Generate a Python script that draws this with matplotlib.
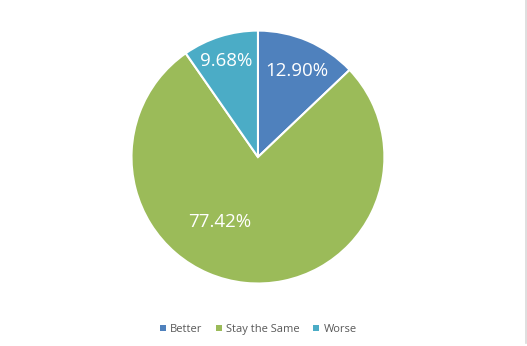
import matplotlib
matplotlib.use('Agg')
import matplotlib.pyplot as plt
from matplotlib.lines import Line2D
from matplotlib.patches import Patch

plt.rcParams['font.family'] = ['Open Sans', 'DejaVu Sans']

categories = ['Better', 'Stay the Same', 'Worse']
values = [12.90, 77.42, 9.68]
colors = ['#4F81BD', '#9BBB59', '#4BACC6']

# label offsets (fraction of radius) as Excel placed them
label_pos = [(0.31, 0.68), (-0.30, -0.51), (-0.25, 0.76)]

fig = plt.figure(figsize=(5.27, 3.46), dpi=100)
ax = fig.add_axes([0.2495, 0.1806, 0.480, 0.731])
wedges, texts, autotexts = ax.pie(
    values, colors=colors, startangle=90, counterclock=False,
    autopct='%.2f%%', radius=1.0,
    wedgeprops=dict(edgecolor='white', linewidth=1.5),
    textprops=dict(color='white', fontsize=13.5))
for t, (x, y) in zip(autotexts, label_pos):
    t.set_position((x, y))
    t.set_ha('center')
    t.set_va('center')
ax.set_xlim(-1, 1)
ax.set_ylim(-1, 1)
ax.set_aspect('equal')

handles = [Patch(facecolor=c, edgecolor='none') for c in colors]
fig.legend(handles, categories, loc='center', bbox_to_anchor=(0.49, 0.048),
           ncol=3, frameon=False, fontsize=8, handlelength=0.55, handleheight=0.55,
           handletextpad=0.4, columnspacing=1.2, labelcolor='#595959')

# grey cell border on the right edge
fig.add_artist(Line2D([525.5 / 527, 525.5 / 527], [3 / 346, 1], color='#d9d9d9', linewidth=1.2))

fig.savefig('out.png', dpi=100)
